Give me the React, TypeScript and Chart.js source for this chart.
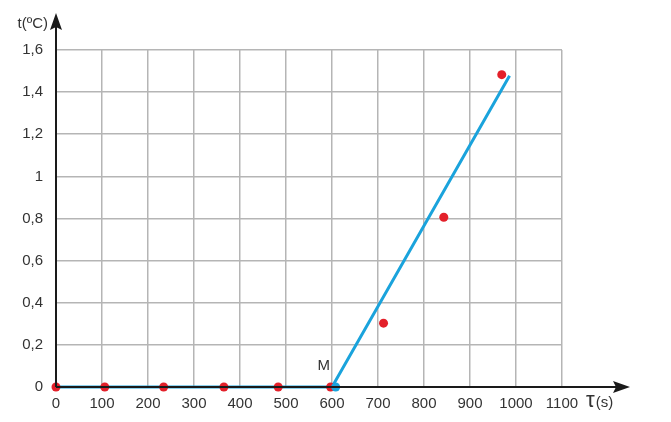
import React, { useEffect, useRef } from "react";
import { Chart, registerables } from "chart.js";

Chart.register(...registerables);

const zeroTimes = [0, 106, 234, 365, 483, 597];
const zeroTemps = [0, 0, 0, 0, 0, 0];
const riseTimes = [712, 843, 969];
const riseTemps = [0.303, 0.806, 1.483];
const fitTimes = [0, 600, 986];
const fitTemps = [0, 0, 1.478];
const pointM = { t: 608, v: 0, label: "M" };
const xTickLabels = ["0", "100", "200", "300", "400", "500", "600", "700", "800", "900", "1000", "1100"];
const yTickLabels = ["0", "0,2", "0,4", "0,6", "0,8", "1", "1,2", "1,4", "1,6"];
const yTitle = "t(ºC)";
const xTitleSym = "τ";
const xTitleUnit = "(s)";

const FONT = "'Liberation Sans', Arial, sans-serif";
const TEXT = "#333333";
const RED = "#e3202a";
const BLUE = "#1aa3dc";

const axesPlugin = {
  id: "axesArrows",
  afterDraw(chart: any) {
    const { ctx, chartArea, scales } = chart;
    const x0 = scales.x.getPixelForValue(0);
    const y0 = scales.y.getPixelForValue(0);
    ctx.save();
    ctx.strokeStyle = "#1a1a1a";
    ctx.fillStyle = "#1a1a1a";
    ctx.lineWidth = 2;
    // y axis
    const yTip = chartArea.top - 37;
    ctx.beginPath();
    ctx.moveTo(x0, y0);
    ctx.lineTo(x0, yTip + 14);
    ctx.stroke();
    ctx.beginPath();
    ctx.moveTo(x0, yTip);
    ctx.lineTo(x0 - 6, yTip + 17);
    ctx.lineTo(x0, yTip + 14);
    ctx.lineTo(x0 + 6, yTip + 17);
    ctx.closePath();
    ctx.fill();
    // x axis
    const xTip = chartArea.right + 68;
    ctx.beginPath();
    ctx.moveTo(x0, y0);
    ctx.lineTo(xTip - 14, y0);
    ctx.stroke();
    ctx.beginPath();
    ctx.moveTo(xTip, y0);
    ctx.lineTo(xTip - 17, y0 - 6);
    ctx.lineTo(xTip - 14, y0);
    ctx.lineTo(xTip - 17, y0 + 6);
    ctx.closePath();
    ctx.fill();
    // titles
    ctx.fillStyle = TEXT;
    ctx.font = `15px ${FONT}`;
    ctx.textAlign = "right";
    ctx.textBaseline = "middle";
    ctx.fillText(yTitle, x0 - 8, chartArea.top - 26);
    ctx.textAlign = "left";
    ctx.textBaseline = "alphabetic";
    const tx = chartArea.right + 24;
    const ty = y0 + 20;
    ctx.font = `22px ${FONT}`;
    ctx.fillText(xTitleSym, tx, ty);
    const w = ctx.measureText(xTitleSym).width;
    ctx.font = `15px ${FONT}`;
    ctx.fillText(xTitleUnit, tx + w + 1, ty);
    // M label
    const mx = scales.x.getPixelForValue(pointM.t);
    ctx.font = `15px ${FONT}`;
    ctx.textAlign = "center";
    ctx.textBaseline = "middle";
    ctx.fillText(pointM.label, mx - 12, y0 - 21);
    ctx.restore();
  },
};

export default function App() {
  const ref = useRef<HTMLCanvasElement | null>(null);
  useEffect(() => {
    if (!ref.current) return;
    const chart = new Chart(ref.current, {
      type: "scatter",
      data: {
        datasets: [
          {
            data: [{ x: pointM.t, y: pointM.v }],
            backgroundColor: BLUE,
            borderColor: BLUE,
            pointRadius: 4.5,
            borderWidth: 0,
            clip: false,
          } as any,
          {
            data: zeroTimes.map((t, i) => ({ x: t, y: zeroTemps[i] })).concat(
              riseTimes.map((t, i) => ({ x: t, y: riseTemps[i] }))
            ),
            backgroundColor: RED,
            borderColor: RED,
            pointRadius: 4.5,
            borderWidth: 0,
            clip: false,
          } as any,
          {
            data: fitTimes.map((t, i) => ({ x: t, y: fitTemps[i] })),
            showLine: true,
            borderColor: BLUE,
            borderWidth: 3,
            pointRadius: 0,
            clip: false,
          } as any,
        ],
      },
      options: {
        animation: false,
        responsive: true,
        maintainAspectRatio: false,
        layout: { padding: { top: 50, right: 109, left: 0, bottom: 0 } },
        plugins: { legend: { display: false }, tooltip: { enabled: false } },
        scales: {
          x: {
            type: "linear",
            min: 0,
            max: 1100,
            afterFit: (s: any) => {
              s.height = 35;
            },
            afterBuildTicks: (s: any) => {
              s.ticks = xTickLabels.map((_, i) => ({ value: i * 100 }));
            },
            grid: { color: "#b5b5b5", lineWidth: 1.5, drawTicks: false },
            border: { display: false },
            ticks: {
              padding: 8,
              color: TEXT,
              font: { family: FONT, size: 15 },
              maxRotation: 0,
              autoSkip: false,
              callback: (_v: any, i: number) => xTickLabels[i],
            },
          },
          y: {
            type: "linear",
            min: 0,
            max: 1.6,
            afterFit: (s: any) => {
              s.width = 56;
            },
            afterBuildTicks: (s: any) => {
              s.ticks = yTickLabels.map((_, i) => ({ value: i * 0.2 }));
            },
            grid: { color: "#b5b5b5", lineWidth: 1.5, drawTicks: false },
            border: { display: false },
            ticks: {
              padding: 13,
              color: TEXT,
              font: { family: FONT, size: 15 },
              autoSkip: false,
              callback: (_v: any, i: number) => yTickLabels[i],
            },
          },
        },
      },
      plugins: [axesPlugin],
    });
    return () => chart.destroy();
  }, []);
  return (
    <div style={{ position: "fixed", left: 0, top: 0, width: 671, height: 422, background: "#fff" }}>
      <canvas ref={ref} />
    </div>
  );
}
